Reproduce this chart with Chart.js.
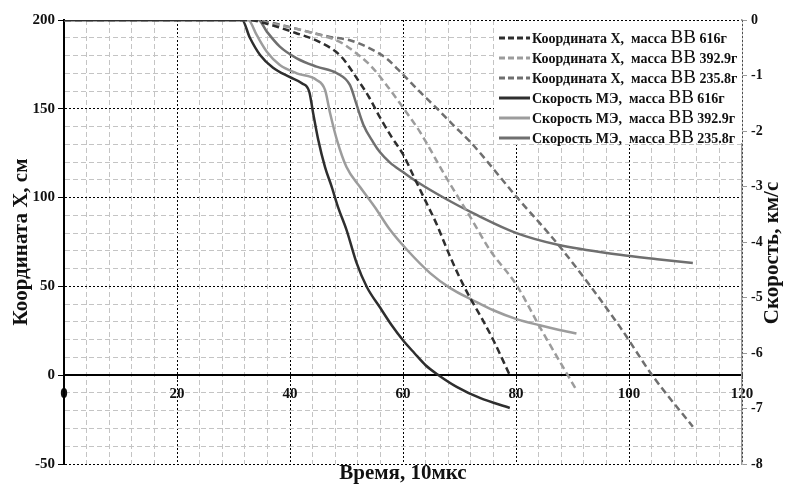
<!DOCTYPE html>
<html lang="ru">
<head>
<meta charset="UTF-8">
<title>Координата и скорость МЭ</title>
<script src="https://cdn.jsdelivr.net/npm/chart.js"></script>
<style>
    body { margin: 0; background: #fff; }
    #wrap { width: 785px; height: 486px; }
</style>
</head>
<body>
<div id="wrap"><canvas id="grafico" width="785" height="486"></canvas></div>
<script>
    // координата X, см (левая ось)
    var tempoX616 = [0, 33, 35, 38, 41, 45, 49, 52, 54, 56, 58, 60, 62, 64, 66, 68, 70, 72, 74, 76, 78.9];
    var coordX616 = [200, 200, 198.6, 195.9, 192.7, 188, 179.6, 166.4, 156.5, 144.7, 134, 124.4, 111.2, 98, 84.7, 69.3, 55.2, 42.8, 31.7, 19.7, 0];

    var tempoX392 = [0, 33, 35.3, 44.1, 48.8, 50.6, 54.2, 57.1, 60.1, 63, 67.4, 71.9, 75.4, 80.1, 84.2, 90.7];
    var coordX392 = [200, 200, 198.9, 192.6, 187.7, 184, 174.5, 163.3, 150.2, 137, 112.6, 89.1, 70.4, 50.7, 27.2, -8.4];

    var tempoX235 = [0, 33, 35.9, 47.1, 50.6, 54.2, 57.1, 60.1, 63, 66, 68.9, 71.9, 80.1, 87.8, 98.4, 104.1, 111.3];
    var coordX235 = [200, 200, 198.9, 190.5, 188.6, 183.9, 178.3, 168.9, 159.5, 150.2, 140.8, 131.4, 100.4, 72.2, 27.2, 0, -29];

    // скорость МЭ, км/с (правая ось)
    var tempoV616 = [0, 31.5, 32.9, 34.7, 37, 40, 42.1, 43.4, 44.1, 45, 46.2, 47.4, 48.5, 50, 51.8, 53.6, 56, 58, 60, 62, 64, 66.3, 69.5, 73.6, 78.9];
    var velV616 = [0, 0, -0.32, -0.63, -0.86, -1.03, -1.14, -1.29, -1.68, -2.16, -2.65, -3.01, -3.37, -3.78, -4.38, -4.81, -5.19, -5.5, -5.77, -6, -6.22, -6.4, -6.61, -6.81, -6.99];

    var tempoV392 = [0, 32.6, 34.1, 35.9, 38.2, 41.2, 44.7, 46.2, 47.1, 48.3, 50, 52.4, 55, 57.7, 60.7, 64.8, 68.5, 72.4, 76, 80.1, 84.2, 87.5, 90.7];
    var velV392 = [0, 0, -0.27, -0.57, -0.81, -0.96, -1.08, -1.26, -1.68, -2.16, -2.65, -3.01, -3.37, -3.78, -4.14, -4.56, -4.84, -5.05, -5.23, -5.39, -5.5, -5.58, -5.65];

    var tempoV235 = [0, 34.4, 35.9, 38.2, 41.2, 44.7, 48.3, 50.6, 51.8, 53, 54.7, 55.9, 57.7, 60, 62.4, 67.7, 72.4, 80.1, 87.4, 98.4, 105, 111.3];
    var velV235 = [0, 0, -0.21, -0.48, -0.69, -0.84, -0.96, -1.17, -1.53, -1.89, -2.2, -2.38, -2.57, -2.74, -2.91, -3.23, -3.48, -3.84, -4.05, -4.23, -4.31, -4.38];

    var legendaTextos = [
        "Координата X,  масса ВВ 616г",
        "Координата X,  масса ВВ 392.9г",
        "Координата X,  масса ВВ 235.8г",
        "Скорость МЭ,  масса ВВ 616г",
        "Скорость МЭ,  масса ВВ 392.9г",
        "Скорость МЭ,  масса ВВ 235.8г"
    ];

    var corEscura = '#2e2e2e';
    var corClara = '#9c9c9c';
    var corMedia = '#6f6f6f';
    var fonte = "'Liberation Serif', 'Times New Roman', serif";

    function pontos(tempos, valores) {
        var lista = [];
        for (var i = 0; i < tempos.length; i++) {
            lista.push({ x: tempos[i], y: valores[i] });
        }
        return lista;
    }

    function serie(label, tempos, valores, cor, tracejada, eixo) {
        return {
            label: label,
            data: pontos(tempos, valores),
            borderColor: cor,
            backgroundColor: cor,
            borderWidth: 2.5,
            borderDash: tracejada ? [7, 4] : [],
            pointRadius: 0,
            cubicInterpolationMode: 'monotone',
            yAxisID: eixo,
            fill: false
        };
    }

    // легенда внутри области графика
    const legendaInterna = {
        id: 'legendaInterna',
        afterDraw(chart) {
            const ctx = chart.ctx;
            const area = chart.chartArea;
            const x0 = area.right - 248;
            ctx.save();
            ctx.fillStyle = '#fff';
            ctx.fillRect(x0, area.top + 1, 248, 122);
            chart.data.datasets.forEach(function (ds, i) {
                const y = area.top + 18 + i * 20;
                ctx.strokeStyle = ds.borderColor;
                ctx.lineWidth = 3;
                ctx.setLineDash(ds.borderDash.length ? [6, 3] : []);
                ctx.beginPath();
                ctx.moveTo(x0 + 5, y);
                ctx.lineTo(x0 + 36, y);
                ctx.stroke();
                ctx.setLineDash([]);

                const partes = ds.label.split('ВВ');
                let x = x0 + 38;
                ctx.fillStyle = '#111';
                ctx.textBaseline = 'middle';
                ctx.font = 'bold 14px ' + fonte;
                ctx.fillText(partes[0], x, y + 1);
                x += ctx.measureText(partes[0]).width;
                ctx.font = '19px ' + fonte;
                ctx.fillText('ВВ', x, y);
                x += ctx.measureText('ВВ').width;
                ctx.font = 'bold 14px ' + fonte;
                ctx.fillText(partes[1], x, y + 1);
            });
            ctx.restore();
        }
    };

    // подпись правой оси (снизу вверх)
    const tituloDireito = {
        id: 'tituloDireito',
        afterDraw(chart) {
            const ctx = chart.ctx;
            const area = chart.chartArea;
            ctx.save();
            ctx.translate(chart.width - 12, (area.top + area.bottom) / 2 + 11);
            ctx.rotate(-Math.PI / 2);
            ctx.font = 'bold 21px ' + fonte;
            ctx.fillStyle = '#111';
            ctx.textAlign = 'center';
            ctx.textBaseline = 'middle';
            ctx.fillText('Скорость, км/с', 0, 0);
            ctx.restore();
        }
    };

    function corGrade(passoMaior) {
        return function (c) {
            if (!c.tick) return '#000';
            return Math.abs(c.tick.value % passoMaior) < 1e-6 ? '#000' : '#c4c4c4';
        };
    }

    function tracoGrade(passoMaior) {
        return function (c) {
            if (!c.tick) return [];
            return Math.abs(c.tick.value % passoMaior) < 1e-6 ? [2, 2] : [5, 3];
        };
    }

    Chart.defaults.font.family = fonte;
    Chart.defaults.color = '#111';

    const grafico = document.getElementById('grafico');
    new Chart(grafico, {
        type: 'line',
        data: {
            datasets: [
                serie(legendaTextos[0], tempoX616, coordX616, corEscura, true, 'y'),
                serie(legendaTextos[1], tempoX392, coordX392, corClara, true, 'y'),
                serie(legendaTextos[2], tempoX235, coordX235, corMedia, true, 'y'),
                serie(legendaTextos[3], tempoV616, velV616, corEscura, false, 'y2'),
                serie(legendaTextos[4], tempoV392, velV392, corClara, false, 'y2'),
                serie(legendaTextos[5], tempoV235, velV235, corMedia, false, 'y2')
            ]
        },
        options: {
            responsive: false,
            animation: false,
            layout: { padding: { top: 20, left: 0, right: 0, bottom: 0 } },
            plugins: {
                legend: { display: false },
                tooltip: { enabled: false }
            },
            scales: {
                x: {
                    type: 'linear',
                    position: 'bottom',
                    min: 0,
                    max: 120,
                    ticks: {
                        stepSize: 4,
                        autoSkip: false,
                        callback: function () { return ''; }
                    },
                    grid: {
                        color: corGrade(20),
                        lineWidth: 1,
                        drawTicks: false
                    },
                    border: { display: false, dash: tracoGrade(20) },
                    title: {
                        display: true,
                        text: 'Время, 10мкс',
                        font: { size: 21, weight: 'bold' },
                        padding: { top: 0, bottom: 0 }
                    },
                    afterFit: function (s) { s.height = 22; }
                },
                x2: {
                    type: 'linear',
                    axis: 'x',
                    position: { y: 0 },
                    min: 0,
                    max: 120,
                    ticks: {
                        stepSize: 20,
                        font: { size: 15, weight: 'bold' },
                        padding: 7
                    },
                    grid: { drawOnChartArea: false, drawTicks: true, tickLength: 3, color: '#000' },
                    border: { display: true, color: '#000', width: 2 }
                },
                y: {
                    type: 'linear',
                    position: 'left',
                    min: -50,
                    max: 200,
                    ticks: {
                        stepSize: 10,
                        autoSkip: false,
                        font: { size: 15, weight: 'bold' },
                        padding: 3,
                        callback: function (v) { return v % 50 === 0 ? v : ''; }
                    },
                    grid: {
                        color: corGrade(50),
                        lineWidth: 1,
                        tickLength: 6,
                        tickColor: function (c) {
                            return c.tick && c.tick.value % 50 === 0 ? '#000' : 'rgba(0,0,0,0)';
                        }
                    },
                    border: { display: true, color: '#000', width: 2, dash: tracoGrade(50) },
                    title: {
                        display: true,
                        text: 'Координата X, см',
                        font: { size: 21, weight: 'bold' },
                        padding: { top: 9, bottom: 0 }
                    },
                    afterFit: function (s) { s.width = 64; }
                },
                y2: {
                    type: 'linear',
                    position: 'right',
                    min: -8,
                    max: 0,
                    ticks: {
                        stepSize: 1,
                        font: { size: 14, weight: 'bold' },
                        padding: 4
                    },
                    grid: { drawOnChartArea: false, tickLength: 5, color: '#999' },
                    border: { display: true, color: '#999', width: 1.5 },
                    afterFit: function (s) { s.width = 43; }
                }
            }
        },
        plugins: [legendaInterna, tituloDireito]
    });
</script>
</body>
</html>
